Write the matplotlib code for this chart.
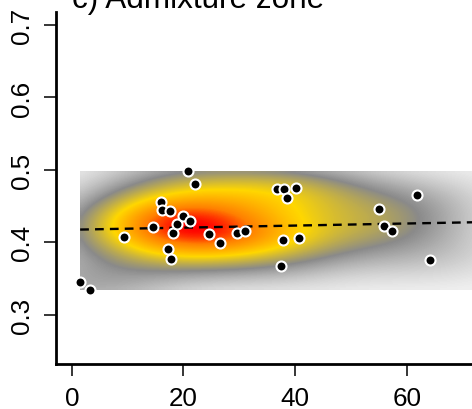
import numpy as np
import matplotlib
matplotlib.use('Agg')
import matplotlib.pyplot as plt
from matplotlib.colors import LinearSegmentedColormap

plt.rc('font', family='Liberation Sans')

# sampled individuals (distance, admixture proportion)
dist = [1.5, 3.3, 9.3, 14.6, 15.9, 16.2, 17.6, 17.2, 17.7, 18.1,
        18.9, 20.0, 21.2, 20.8, 22.1, 24.5, 26.6, 29.6, 31.1,
        36.8, 38.1, 40.1, 38.6, 37.8, 40.7, 37.5,
        61.8, 55.0, 56.0, 57.4, 64.2]
admix = [0.345, 0.334, 0.408, 0.421, 0.456, 0.444, 0.443, 0.391, 0.377, 0.413,
         0.425, 0.437, 0.429, 0.498, 0.481, 0.411, 0.399, 0.413, 0.415,
         0.473, 0.474, 0.475, 0.461, 0.403, 0.406, 0.367,
         0.466, 0.446, 0.422, 0.416, 0.376]

# fitted trend line
trend_intercept = 0.4174
trend_slope = 0.000143

xlim = (0, 72)
ylim = (0.25, 0.70)

x = np.array(dist)
y = np.array(admix)

# smoothed density of the samples over their bounding box
gx = np.linspace(x.min(), xlim[1] + 3, 100)
gy = np.linspace(y.min(), y.max(), 30)
GX, GY = np.meshgrid(gx, gy)
hx, hy = 11.0, 0.028
Z = np.zeros_like(GX)
for xi, yi in zip(x, y):
    Z += np.exp(-0.5 * ((GX - xi) / hx) ** 2 - 0.5 * ((GY - yi) / hy) ** 2)
Z = Z / Z.max()

cmap = LinearSegmentedColormap.from_list('greyheat', [
    (0.00, '#f8f8f8'),
    (0.28, '#8a8a8a'),
    (0.55, '#ffd700'),
    (0.82, '#ff8000'),
    (1.00, '#ff0000'),
])

fig = plt.figure(figsize=(4.72, 4.10), dpi=100)
ax = fig.add_axes([55.7 / 472, 45 / 410, 434.1 / 472, 352 / 410])

ax.imshow(Z, cmap=cmap, origin='lower', aspect='auto', interpolation='bilinear',
          extent=[gx[0], gx[-1], gy[0], gy[-1]], vmin=0, vmax=1, zorder=1)

lx = np.array([x.min(), xlim[1] + 3])
ax.plot(lx, trend_intercept + trend_slope * lx, color='black', lw=1.7,
        linestyle=(0, (3.7, 2.6)), zorder=2)

ax.plot(x, y, 'o', color='black', markersize=7.2, markeredgecolor='white',
        markeredgewidth=1.5, zorder=3)

dx = 0.04 * (xlim[1] - xlim[0])
dy = 0.04 * (ylim[1] - ylim[0])
ax.set_xlim(xlim[0] - dx, xlim[1] + dx)
ax.set_ylim(ylim[0] - dy, ylim[1] + dy)

ax.set_xticks([0, 20, 40, 60])
ax.set_yticks([0.3, 0.4, 0.5, 0.6, 0.7])
ax.set_yticklabels(['0.3', '0.4', '0.5', '0.6', '0.7'])
ax.tick_params(length=8.6, width=1.1, pad=7, labelsize=18.7)
ax.tick_params(axis='y', labelrotation=90)
for lab in ax.get_yticklabels():
    lab.set_va('center')

for s in ['top', 'right']:
    ax.spines[s].set_visible(False)
for s in ['left', 'bottom']:
    ax.spines[s].set_linewidth(2.0)

fig.text(72 / 472, 1 - 8 / 410, 'c) Admixture zone', fontsize=22.7,
         ha='left', va='baseline')

fig.savefig('out.png', dpi=100)
